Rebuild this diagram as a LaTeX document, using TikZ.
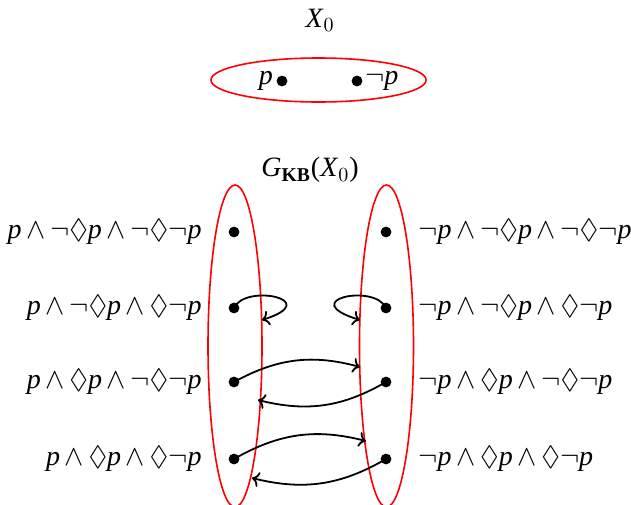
\documentclass[tikz,border=0pt]{standalone}
\usepackage{amssymb}
\usepackage{fontspec}
\setmainfont{Liberation Serif}
\usetikzlibrary{arrows.meta,positioning}
\newcommand{\pp}{\textit{p}}
\newcommand{\nn}{$\neg$}
\newcommand{\ww}{\,$\wedge$\,}
\newcommand{\dd}{$\Diamond$}
\newcommand{\bigtxt}{\fontsize{14}{16}\selectfont}

\begin{document}
\begin{tikzpicture}[
  x=0.5pt,
  y=0.5pt,
  >=To,
  world/.style={draw=red, line width=0.8pt},
  pt/.style={circle, fill=black, minimum size=5.4pt, inner sep=0pt},
  rel/.style={->, line width=0.9pt, draw=black},
  lformula/.style={anchor=east, font=\bigtxt, inner sep=0pt},
  rformula/.style={anchor=west, font=\bigtxt, inner sep=0pt},
]
\useasboundingbox (0,0) rectangle (631,-504);

\node[font=\bigtxt] (title0) at (320,-20) {\textit{X}$_0$};
\draw[world] (318.5,-80) ellipse [x radius=107.5, y radius=22];
\node[pt] (xp) at (282,-81) {};
\node[pt] (xnp) at (357,-81) {};
\node[font=\bigtxt, left=1.5pt of xp, inner sep=0pt] (lxp) {\pp};
\node[font=\bigtxt, right=1pt of xnp, inner sep=0pt] (lxnp) {\nn\pp};

\node[font=\bigtxt] (title1) at (310,-170) {\textit{G}$_{\mathbf{KB}}$(\textit{X}$_0$)};
\draw[world] (235,-346) ellipse [x radius=27, y radius=161];
\draw[world] (386.5,-346) ellipse [x radius=27, y radius=161];

\node[pt] (l1) at (234,-232) {};
\node[pt] (l2) at (234,-308) {};
\node[pt] (l3) at (234,-382) {};
\node[pt] (l4) at (234,-459) {};
\node[pt] (r1) at (386,-232) {};
\node[pt] (r2) at (386,-308) {};
\node[pt] (r3) at (386,-382) {};
\node[pt] (r4) at (386,-459) {};

\node[lformula] (fl1) at (202,-232) {\pp\ww\nn\dd\pp\ww\nn\dd\nn\pp};
\node[lformula] (fl2) at (202,-308) {\pp\ww\nn\dd\pp\ww\dd\nn\pp};
\node[lformula] (fl3) at (202,-382) {\pp\ww\dd\pp\ww\nn\dd\nn\pp};
\node[lformula] (fl4) at (202,-459) {\pp\ww\dd\pp\ww\dd\nn\pp};
\node[rformula] (fr1) at (418,-232) {\nn\pp\ww\nn\dd\pp\ww\nn\dd\nn\pp};
\node[rformula] (fr2) at (418,-308) {\nn\pp\ww\nn\dd\pp\ww\dd\nn\pp};
\node[rformula] (fr3) at (418,-382) {\nn\pp\ww\dd\pp\ww\nn\dd\nn\pp};
\node[rformula] (fr4) at (418,-459) {\nn\pp\ww\dd\pp\ww\dd\nn\pp};

\coordinate (e2l) at (262,-320);
\coordinate (e2r) at (360,-320);
\coordinate (e3r) at (360,-367);
\coordinate (e3l) at (258,-400);
\coordinate (e4r) at (366,-441);
\coordinate (e4l) at (252,-478);

\draw[rel] (l2.center) .. controls (245,-283) and (325,-300) .. (e2l);
\draw[rel] (r2.center) .. controls (375,-283) and (295,-300) .. (e2r);
\draw[rel] (l3.center) to[bend left=22] (e3r);
\draw[rel] (r3.center) to[bend left=22] (e3l);
\draw[rel] (l4.center) to[bend left=22] (e4r);
\draw[rel] (r4.center) to[bend left=22] (e4l);

\end{tikzpicture}
\end{document}
